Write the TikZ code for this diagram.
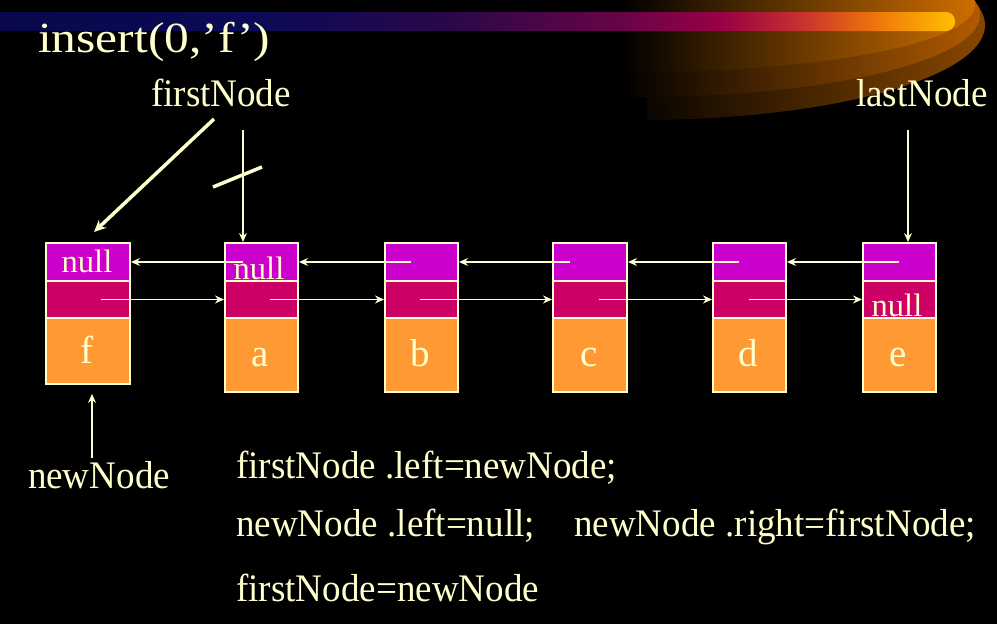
\documentclass[tikz,border=0pt]{standalone}
\usepackage{fontspec}
\setmainfont{Liberation Serif}
\newfontfamily\lblfont{Liberation Serif}[FakeStretch=0.95]
\newfontfamily\titlefont{Liberation Serif}[FakeStretch=1.15]
\usetikzlibrary{arrows.meta,calc}
\definecolor{cream}{HTML}{FFFFCC}
\definecolor{ptrLcol}{HTML}{CC00CC}
\definecolor{ptrRcol}{HTML}{CC0066}
\definecolor{valcol}{HTML}{FF9933}
\definecolor{swoA}{HTML}{8A4800}
\definecolor{swoB}{HTML}{B45C00}
\definecolor{swoC}{HTML}{D07000}
\definecolor{st0}{HTML}{08084A}
\definecolor{st1}{HTML}{0A0A58}
\definecolor{st2}{HTML}{2A0848}
\definecolor{st3}{HTML}{680448}
\definecolor{st4}{HTML}{980044}
\definecolor{st5}{HTML}{C83030}
\definecolor{st6}{HTML}{F07A08}
\definecolor{st7}{HTML}{FFC000}
\tikzset{
  cellbox/.style={draw=cream, line width=2pt, inner sep=0pt, anchor=north west},
  lbl/.style={text=cream, inner sep=0pt, font=\lblfont\fontsize{39}{46}\selectfont},
  nulltxt/.style={text=cream, inner sep=0pt, anchor=base, font=\fontsize{32.5}{38}\selectfont},
  lettxt/.style={text=cream, inner sep=0pt, anchor=base, font=\fontsize{39}{45}\selectfont},
  ptr/.style={draw=cream, line width=1.5pt, -{Stealth[length=9pt,width=8pt,inset=3pt]}},
  thickptr/.style={draw=cream, line width=3.5pt, -{Stealth[length=12pt,width=11pt,inset=4pt]}},
  thickline/.style={draw=cream, line width=3.5pt}
}
% name, left x, right x, bottom y of value cell
\newcommand\dlcellL[3]{\node[cellbox, fill=ptrLcol, minimum width=#3-#2, minimum height=38] (#1L) at (#2,242) {};}
\newcommand\dlcellR[3]{\node[cellbox, fill=ptrRcol, minimum width=#3-#2, minimum height=37] (#1R) at (#2,280) {};}
\newcommand\dlcellV[4]{\node[cellbox, fill=valcol, minimum width=#3-#2, minimum height=#4-317] (#1V) at (#2,317) {};}
\begin{document}
\begin{tikzpicture}[x=1pt,y=-1pt]
\useasboundingbox (0,0) rectangle (997,624);
\fill[black] (0,0) rectangle (997,624);
% swoosh
\begin{scope}
  \clip (647,-5) rectangle (1000,130);
  \clip (640,25) ellipse [x radius=345, y radius=95];
  \shade[left color=black, right color=swoA] (620,-5) rectangle (990,130);
\end{scope}
\begin{scope}
  \clip (630,-5) rectangle (1000,130);
  \clip (640,15) ellipse [x radius=340, y radius=82];
  \shade[left color=black, right color=swoB] (620,-5) rectangle (985,130);
\end{scope}
\begin{scope}
  \clip (620,-5) rectangle (1000,130);
  \clip (640,5) ellipse [x radius=335, y radius=67];
  \shade[left color=black, right color=swoC] (620,-5) rectangle (980,130);
\end{scope}
% stripe
\begin{scope}
  \clip[rounded corners=9pt] (-12,12) rectangle (955,31);
  \shade[left color=st0, right color=st1] (-12,12) rectangle (250.5,31);
  \shade[left color=st1, right color=st2] (250,12) rectangle (450.5,31);
  \shade[left color=st2, right color=st3] (450,12) rectangle (620.5,31);
  \shade[left color=st3, right color=st4] (620,12) rectangle (720.5,31);
  \shade[left color=st4, right color=st5] (720,12) rectangle (800.5,31);
  \shade[left color=st5, right color=st6] (800,12) rectangle (880.5,31);
  \shade[left color=st6, right color=st7] (880,12) rectangle (956,31);
\end{scope}
% title
\node[text=cream, inner sep=0pt, anchor=base west, font=\titlefont\fontsize{43}{50}\selectfont] (title) at (38,52) {insert(0,’f’)};
% top (left pointer) cells
\dlcellL{f}{45}{129}
\dlcellL{a}{224}{297}
\dlcellL{b}{384}{457}
\dlcellL{c}{552}{626}
\dlcellL{d}{712}{785}
\dlcellL{e}{862}{935}
\node[nulltxt] (nullf) at (87,272) {null};
\node[nulltxt] (nulla) at (259,279) {null};
% middle (right pointer) cells
\dlcellR{f}{45}{129}
\dlcellR{a}{224}{297}
\dlcellR{b}{384}{457}
\dlcellR{c}{552}{626}
\dlcellR{d}{712}{785}
\dlcellR{e}{862}{935}
\node[nulltxt] (nulle) at (897,316) {null};
% value cells
\dlcellV{f}{45}{129}{383}
\dlcellV{a}{224}{297}{391}
\dlcellV{b}{384}{457}{391}
\dlcellV{c}{552}{626}{391}
\dlcellV{d}{712}{785}{391}
\dlcellV{e}{862}{935}{391}
\node[lettxt] (vf) at (87,363) {f};
\node[lettxt] (va) at (260,366) {a};
\node[lettxt] (vb) at (420,366) {b};
\node[lettxt] (vc) at (589,366) {c};
\node[lettxt] (vd) at (748.5,366) {d};
\node[lettxt] (ve) at (898.5,366) {e};
% left pointers
\draw[ptr] ($(aL.west)+(19,0)$) -- (fL.east);
\draw[ptr] ($(bL.west)+(27,0)$) -- (aL.east);
\draw[ptr] ($(cL.west)+(18,0)$) -- (bL.east);
\draw[ptr] ($(dL.west)+(27,0)$) -- (cL.east);
\draw[ptr] ($(eL.west)+(37,0)$) -- (dL.east);
% right pointers
\draw[ptr] ($(fR.west)+(56,0)$) -- (aR.west);
\draw[ptr] ($(aR.west)+(46,0)$) -- (bR.west);
\draw[ptr] ($(bR.west)+(36,0)$) -- (cR.west);
\draw[ptr] ($(cR.west)+(47,0)$) -- (dR.west);
\draw[ptr] ($(dR.west)+(37,0)$) -- (eR.west);
% labels
\node[lbl, anchor=base] (firstlbl) at (221,106) {firstNode};
\node[lbl, anchor=base] (lastlbl) at (922,106) {lastNode};
\node[lbl, anchor=base] (newlbl) at (99,488) {newNode};
\coordinate (fnA) at (214,119);
\coordinate (fnB) at (243,130);
\coordinate (lnA) at (908,130);
\coordinate (nnA) at (92,458);
\draw[thickptr] (fnA) -- ($(fL.north)+(6,-10)$);
\draw[ptr] (fnB) -- (fnB |- aL.north);
\draw[thickline] (213,187) -- (262,167);
\draw[ptr] (lnA) -- (lnA |- eL.north);
\draw[ptr, shorten >=9pt] (nnA) -- (nnA |- fV.south);
% code
\node[lbl, anchor=base west] (code1) at (236,478.5) {firstNode .left=newNode;};
\node[lbl, anchor=base west] (code2a) at (236,536.5) {newNode .left=null;};
\node[lbl, anchor=base west] (code2b) at (574,536.5) {newNode .right=firstNode;};
\node[lbl, anchor=base west] (code3) at (236,601.5) {firstNode=newNode};
\end{tikzpicture}
\end{document}
